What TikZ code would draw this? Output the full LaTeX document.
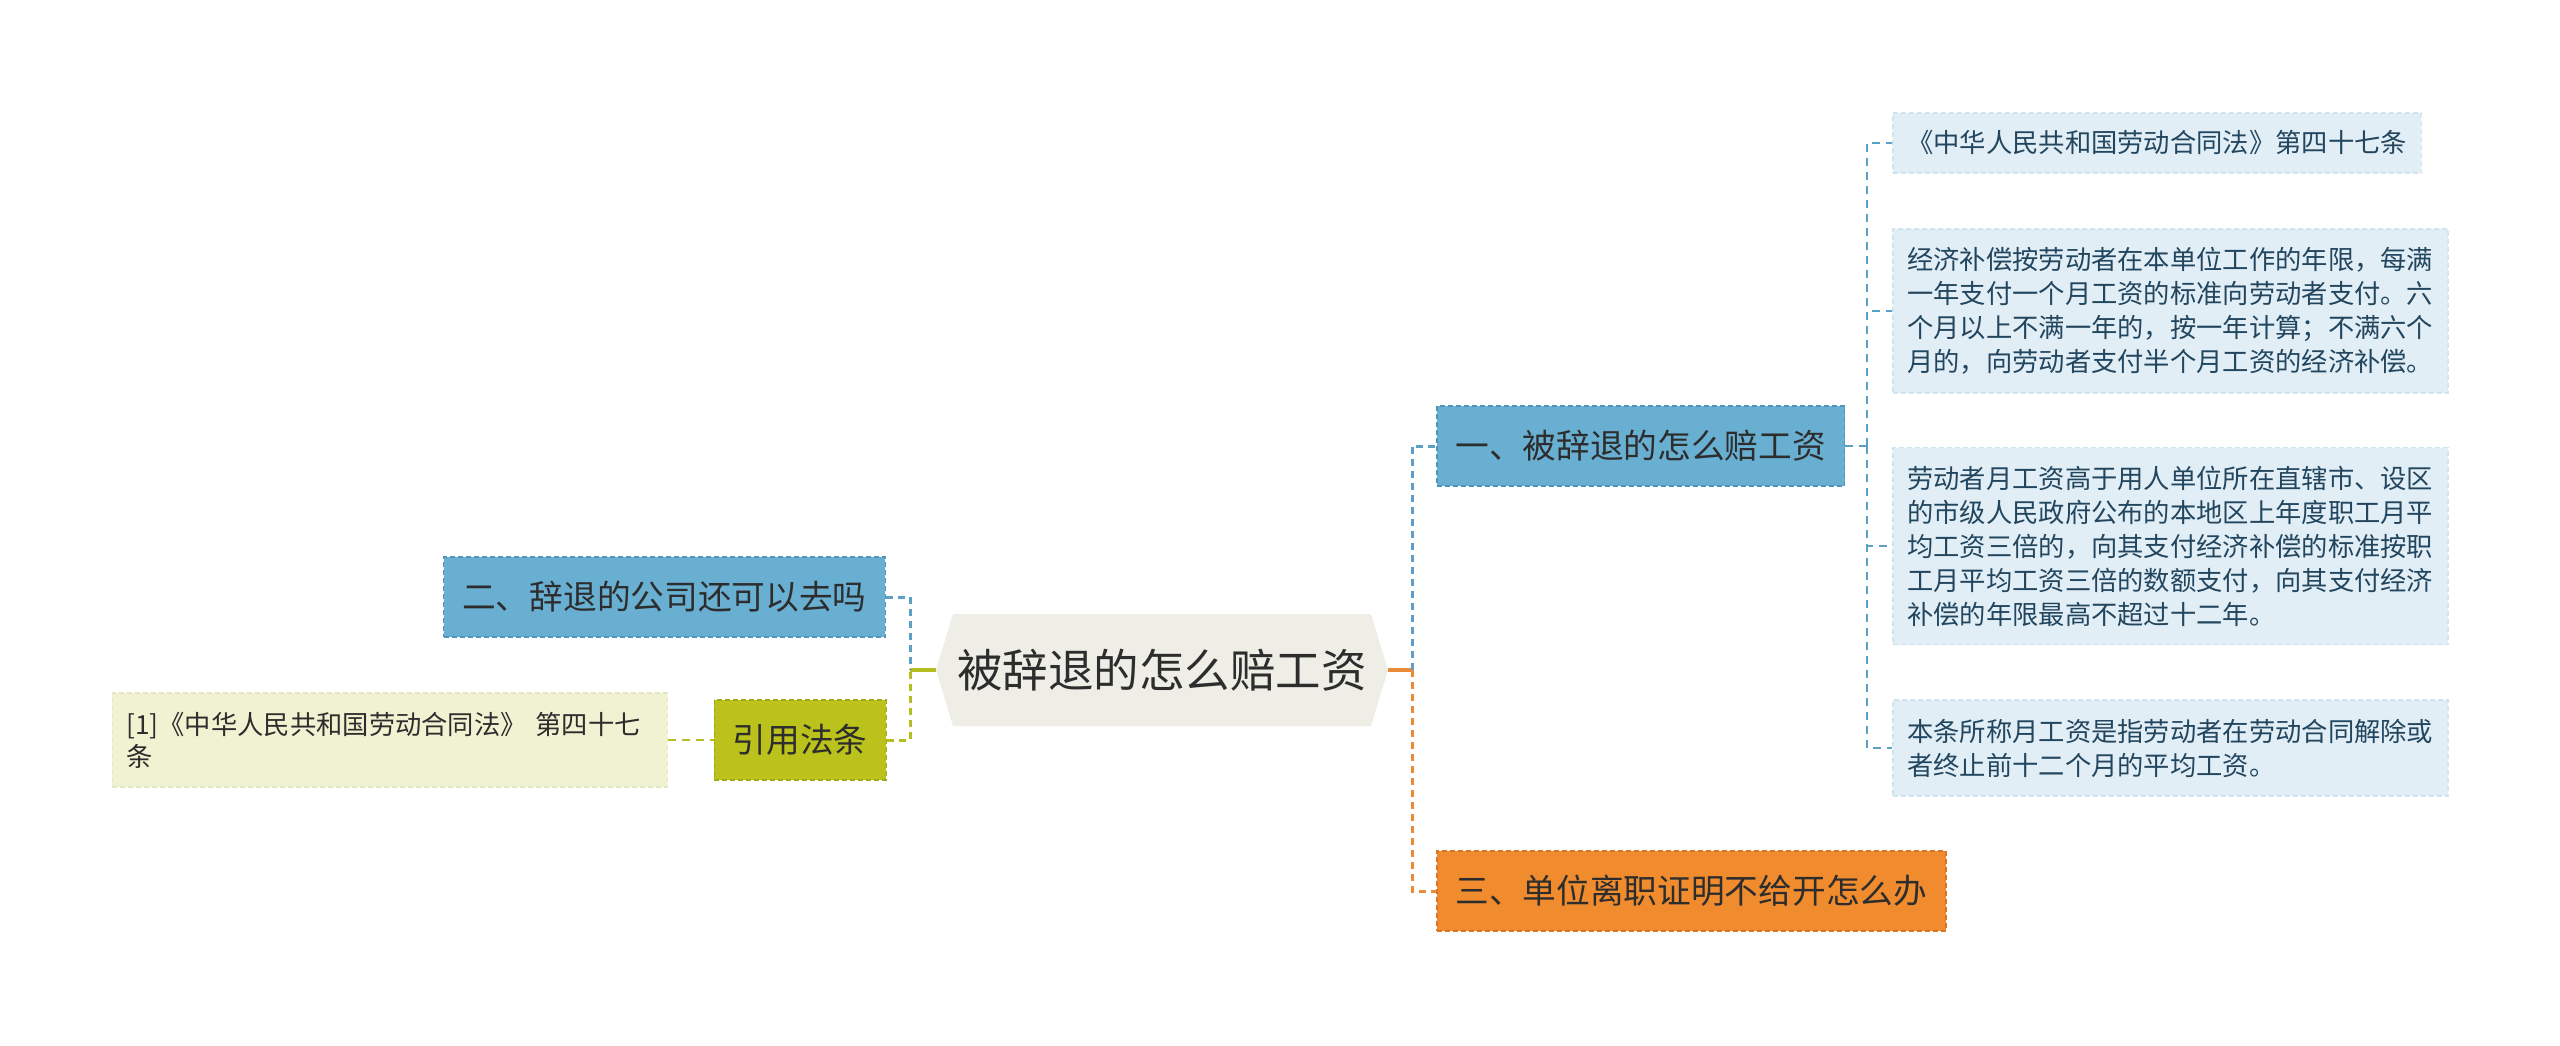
\documentclass[tikz,border=0pt]{standalone}
\usepackage{fontspec}
\newfontfamily\cjk{Noto Sans CJK SC}

\definecolor{rootbg}{RGB}{238,238,230}
\definecolor{bluebg}{RGB}{104,175,210}
\definecolor{blueline}{RGB}{80,148,188}
\definecolor{bluelink}{RGB}{92,160,200}
\definecolor{leafbg}{RGB}{225,238,246}
\definecolor{leafline}{RGB}{208,228,240}
\definecolor{leaftext}{RGB}{35,70,95}
\definecolor{greenbg}{RGB}{186,194,27}
\definecolor{greenline}{RGB}{160,168,20}
\definecolor{greenlink}{RGB}{181,190,32}
\definecolor{palebg}{RGB}{240,242,210}
\definecolor{paleline}{RGB}{228,231,195}
\definecolor{orangebg}{RGB}{241,140,46}
\definecolor{orangeline}{RGB}{214,118,38}
\definecolor{orangelink}{RGB}{232,140,60}
\definecolor{darktext}{RGB}{45,45,45}

\tikzset{
	topic/.style={draw, line width=1.5pt, dash pattern=on 5pt off 3pt, text=darktext, font={\cjk\fontsize{33.7}{40}\selectfont}, inner xsep=18.6pt, inner ysep=0pt, minimum height=80pt},
	leafbox/.style={fill=leafbg, draw=leafline, line width=1.5pt, dash pattern=on 5pt off 3pt, text=leaftext, font={\cjk\fontsize{26.3}{34}\selectfont}, align=left, inner xsep=14.5pt, inner ysep=0pt, anchor=west},
	link/.style={line width=3pt, dash pattern=on 7pt off 5pt},
	leaflink/.style={line width=2pt, dash pattern=on 8pt off 6pt},
	stem/.style={line width=4pt},
}

\begin{document}
\begin{tikzpicture}[x=1pt,y=-1pt]
			\useasboundingbox (0,0) rectangle (2560,1045);
			\coordinate (H-left) at (936,670);
			\coordinate (H-top1) at (953,614);
			\coordinate (H-top2) at (1371,614);
			\coordinate (H-right) at (1388,670);
			\coordinate (H-bot2) at (1371,726);
			\coordinate (H-bot1) at (953,726);
			\coordinate (L-joint) at (910,670);
			\coordinate (R-joint) at (1412,670);
			\coordinate (T-joint) at (1867,446);
			%Root
			\path[fill=rootbg] (H-left) -- (H-top1) -- (H-top2) -- (H-right) -- (H-bot2) -- (H-bot1) -- cycle;
			\node[text=darktext, font={\cjk\fontsize{45.5}{54}\selectfont}, minimum width=452pt, minimum height=112pt, inner sep=0pt] (root) at (1162,670) {被辞退的怎么赔工资};
			%Left side
			\node[topic, fill=bluebg, draw=blueline, anchor=east] (b2) at (886,597) {二、辞退的公司还可以去吗};
			\node[topic, fill=greenbg, draw=greenline, anchor=east] (cite) at (887,740) {引用法条};
			\node[fill=palebg, draw=paleline, line width=1.5pt, dash pattern=on 5pt off 3pt, text=darktext, font={\cjk\fontsize{26.3}{32}\selectfont}, text width=527pt, align=left, inner xsep=14pt, inner ysep=0pt, minimum height=94pt, anchor=east] (pale) at (668,740) {[1]《中华人民共和国劳动合同法》 第四十七\\条};
			%Right side
			\node[topic, fill=bluebg, draw=blueline, anchor=west] (b1) at (1436,446) {一、被辞退的怎么赔工资};
			\node[topic, fill=orangebg, draw=orangeline, anchor=west] (b3) at (1436,891) {三、单位离职证明不给开怎么办};
			%Leaves
			\node[leafbox, minimum height=60pt] (leaf1) at (1892,143) {《中华人民共和国劳动合同法》第四十七条};
			\node[leafbox, minimum height=164pt] (leaf2) at (1892,311) {经济补偿按劳动者在本单位工作的年限，每满\\一年支付一个月工资的标准向劳动者支付。六\\个月以上不满一年的，按一年计算；不满六个\\月的，向劳动者支付半个月工资的经济补偿。};
			\node[leafbox, minimum height=197pt] (leaf3) at (1892,546) {劳动者月工资高于用人单位所在直辖市、设区\\的市级人民政府公布的本地区上年度职工月平\\均工资三倍的，向其支付经济补偿的标准按职\\工月平均工资三倍的数额支付，向其支付经济\\补偿的年限最高不超过十二年。};
			\node[leafbox, minimum height=96pt] (leaf4) at (1892,748) {本条所称月工资是指劳动者在劳动合同解除或\\者终止前十二个月的平均工资。};
			%Connectors
			\draw[stem, greenlink] (root.west) -- (L-joint);
			\draw[link, bluelink] (b2.east) -| (L-joint);
			\draw[link, greenlink] (cite.east) -| (L-joint);
			\draw[leaflink, greenlink] (pale.east) -- (cite.west);
			\draw[stem, orangelink] (root.east) -- (R-joint);
			\draw[link, bluelink] (R-joint) |- (b1.west);
			\draw[link, orangelink] (R-joint) |- (b3.west);
			\draw[leaflink, bluelink] (b1.east) -- (T-joint);
			\foreach \n in {1,...,4}
				\draw[leaflink, bluelink] (T-joint) |- (leaf\n.west);
		\end{tikzpicture}
\end{document}
